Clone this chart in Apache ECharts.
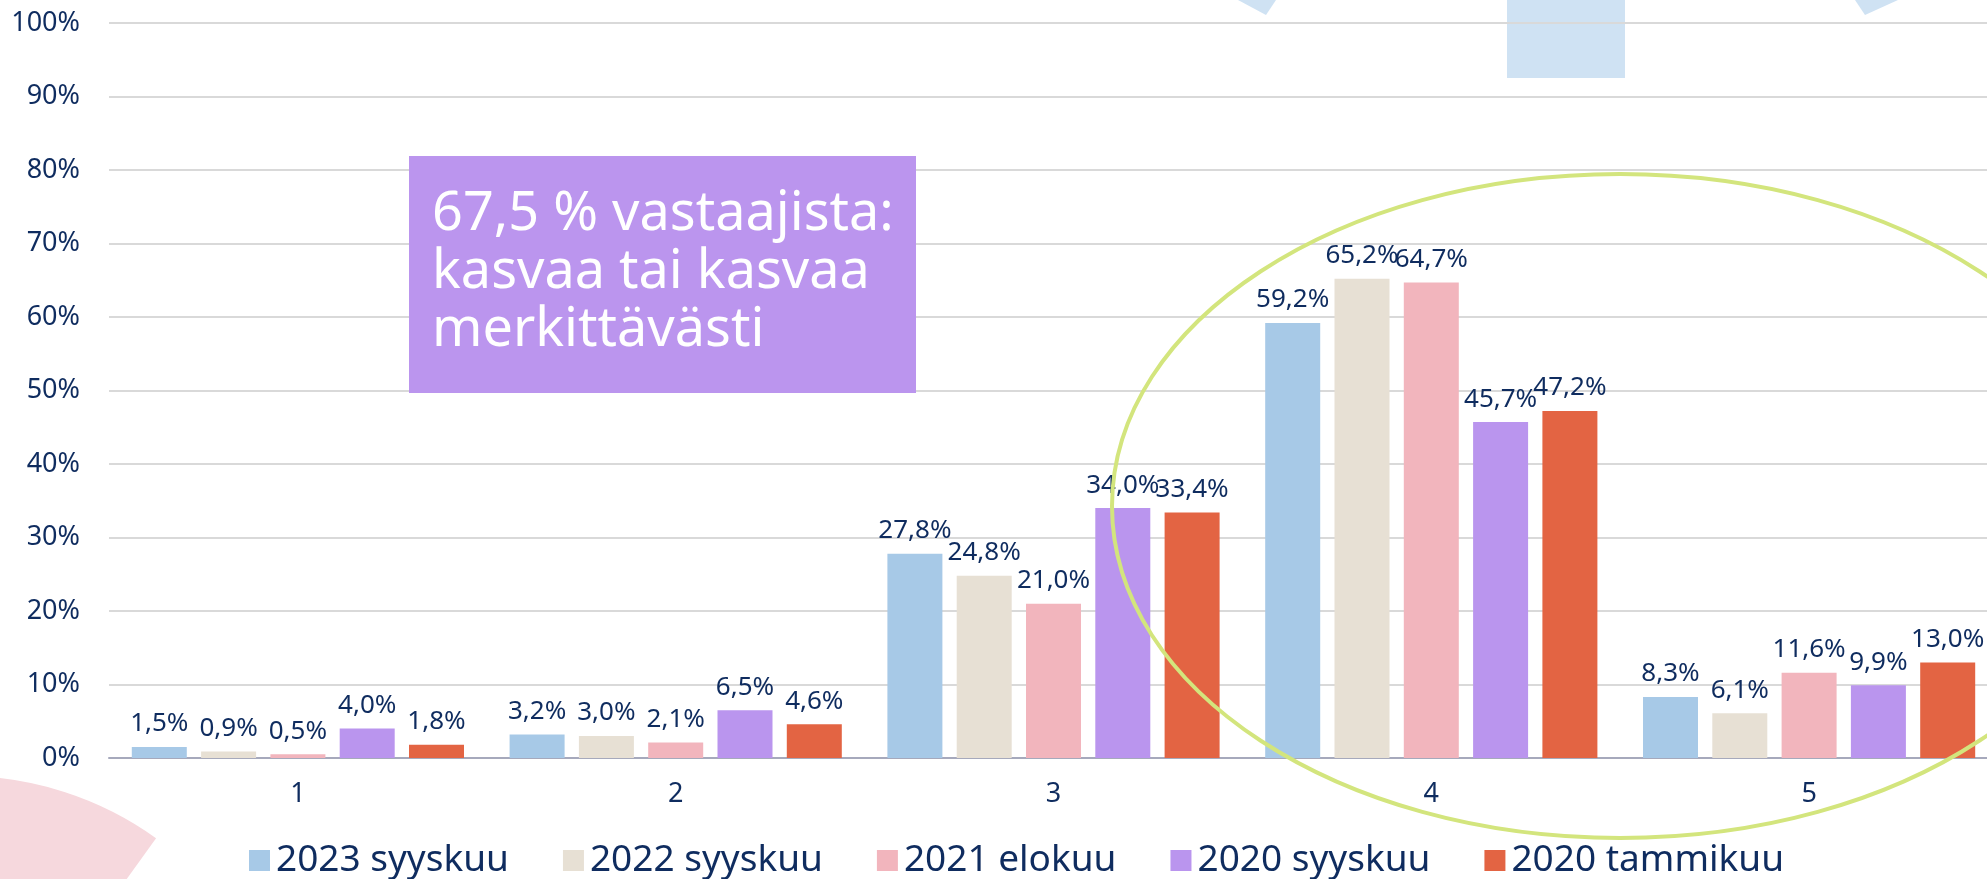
<!DOCTYPE html>
<html>
<head>
<meta charset="utf-8">
<script src="https://cdn.jsdelivr.net/npm/echarts@6/dist/echarts.min.js"></script>
<style>
  html, body { margin: 0; padding: 0; background: #fff; }
  #main { width: 1987px; height: 879px; }
</style>
</head>
<body>
<div id="main"></div>
<script>
// luokat ja sarjat
var categories = ['1', '2', '3', '4', '5'];
var seriesNames = ['2023 syyskuu', '2022 syyskuu', '2021 elokuu', '2020 syyskuu', '2020 tammikuu'];
var syys2023 = [1.5, 3.2, 27.8, 59.2, 8.3];
var syys2022 = [0.9, 3.0, 24.8, 65.2, 6.1];
var elo2021 = [0.5, 2.1, 21.0, 64.7, 11.6];
var syys2020 = [4.0, 6.5, 34.0, 45.7, 9.9];
var tammi2020 = [1.8, 4.6, 33.4, 47.2, 13.0];
var yTicks = [0, 10, 20, 30, 40, 50, 60, 70, 80, 90, 100];

var colors = ['#A7C9E7', '#E7E0D4', '#F2B5BD', '#BA95EE', '#E36443'];
var navy = '#0F2C5F';
var font = '"Noto Sans", sans-serif';

var seriesData = [syys2023, syys2022, elo2021, syys2020, tammi2020];

var myChart = echarts.init(document.getElementById('main'));

var series = seriesData.map(function (d, i) {
    return {
        name: seriesNames[i],
        type: 'bar',
        data: d,
        barWidth: 55,
        barGap: '26%',
        itemStyle: { color: colors[i] },
        label: {
            show: true,
            position: 'top',
            distance: 10,
            color: navy,
            fontFamily: font,
            fontSize: 26,
            formatter: function (p) {
                return p.value.toFixed(1).replace('.', ',') + '%'
            }
        },
        z: 2
    }
});

var option = {
    backgroundColor: '#fff',
    animation: false,
    grid: {
        left: 109,
        top: 23,
        width: 1889,
        bottom: 121,
        containLabel: false,
        outerBoundsMode: 'none'
    },
    legend: {
        data: seriesNames,
        left: 249,
        top: 842,
        padding: 0,
        icon: 'rect',
        itemWidth: 21,
        itemHeight: 21,
        itemGap: 54,
        textStyle: {
            color: navy,
            fontFamily: font,
            fontSize: 37,
            padding: [0, 0, 0, 1]
        }
    },
    xAxis: {
        type: 'category',
        data: categories,
        axisTick: { show: false },
        axisLine: { lineStyle: { color: '#A6A9BC', width: 2 } },
        axisLabel: {
            color: navy,
            fontFamily: font,
            fontSize: 27,
            margin: 23
        }
    },
    yAxis: {
        type: 'value',
        min: yTicks[0],
        max: yTicks[yTicks.length - 1],
        interval: 10,
        axisLine: { show: false },
        axisTick: { show: false },
        splitLine: { lineStyle: { color: '#D9D9D9', width: 2 } },
        axisLabel: {
            color: navy,
            fontFamily: font,
            fontSize: 27,
            margin: 29,
            formatter: '{value}%'
        }
    },
    graphic: [
        // taustakuviot
        {
            type: 'rect', z: -10,
            shape: { x: 1507, y: 0, width: 118, height: 78 },
            style: { fill: '#CFE2F3' }
        },
        {
            type: 'polygon', z: -10,
            shape: { points: [[1238, 0], [1276, 0], [1266, 15]] },
            style: { fill: '#CFE2F3' }
        },
        {
            type: 'polygon', z: -10,
            shape: { points: [[1855, 0], [1898, 0], [1865, 15]] },
            style: { fill: '#CFE2F3' }
        },
        {
            type: 'sector', z: -10,
            shape: { cx: -37, cy: 1107, r: 331, r0: 0, startAngle: -Math.PI, endAngle: -0.948, clockwise: true },
            style: { fill: '#F6D8DD' }
        },
        // tekstilaatikko
        {
            type: 'rect', z: 50,
            shape: { x: 409, y: 156, width: 507, height: 237 },
            style: { fill: '#BB95EE' }
        },
        {
            type: 'text', z: 51,
            x: 432, y: 186,
            style: {
                text: '67,5 % vastaajista:\nkasvaa tai kasvaa\nmerkittävästi',
                fill: '#fff',
                font: '54px "Noto Sans", sans-serif',
                lineHeight: 58,
                textVerticalAlign: 'top'
            }
        },
        // ellipsi
        {
            type: 'ellipse', z: 60,
            shape: { cx: 1620, cy: 506, rx: 508, ry: 332 },
            style: { fill: 'none', stroke: '#D3E57D', lineWidth: 4 }
        }
    ],
    series: series
};

option && myChart.setOption(option);
window.addEventListener('resize', () => {
    myChart.resize()
});
</script>
</body>
</html>
